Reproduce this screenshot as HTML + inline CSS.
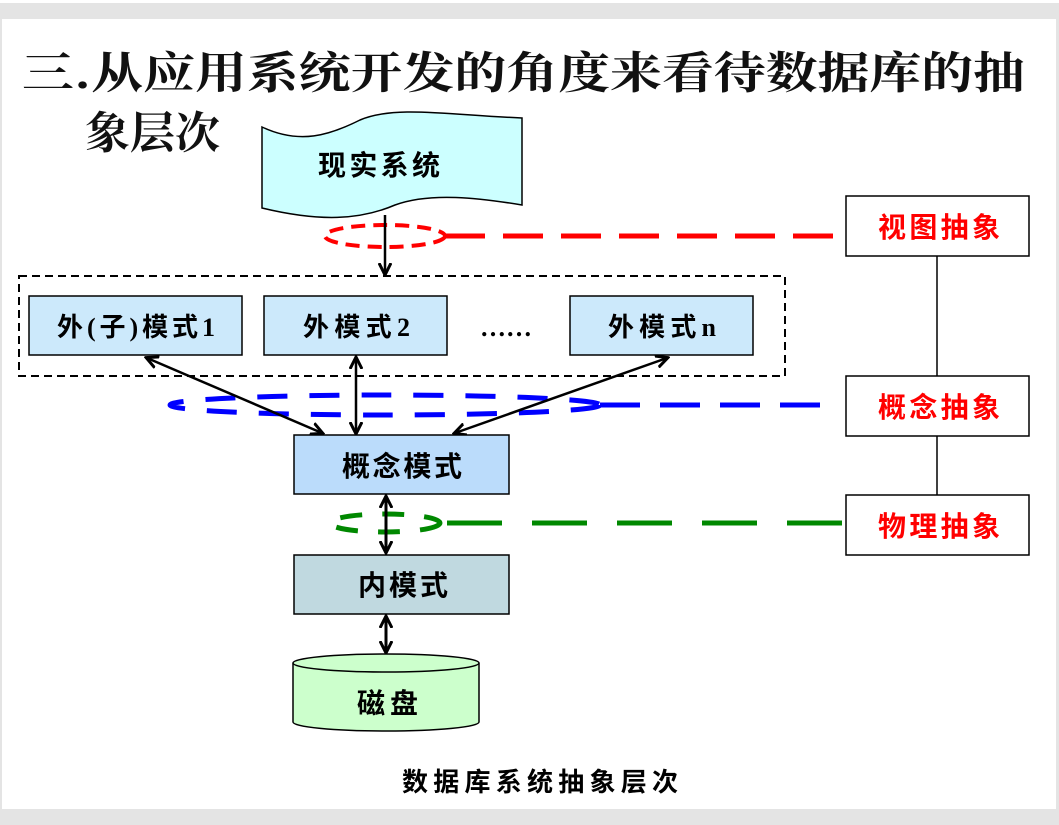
<!DOCTYPE html>
<html><head><meta charset="utf-8"><style>
body{margin:0;background:#e6e6e6;}
svg{display:block;font-family:"Liberation Serif","Noto Serif CJK SC","Noto Sans CJK SC",serif;}
</style></head><body>
<svg width="1059" height="825" viewBox="0 0 1059 825">
<rect x="0" y="0" width="1059" height="825" fill="#e4e4e4"/>
<rect x="0" y="0" width="1059" height="3" fill="#fff"/>
<rect x="2" y="19" width="1054" height="790" fill="#fff"/>
<defs>
<marker id="ah" markerWidth="14" markerHeight="14" refX="11" refY="7" orient="auto-start-reverse" markerUnits="userSpaceOnUse"><path d="M0,1 L12,7 L0,13" fill="none" stroke="#000" stroke-width="3"/></marker>
</defs>
<g font-family="'Noto Serif CJK SC','Noto Sans CJK SC',serif" font-weight="bold" font-size="44" fill="#111">
<text x="22" y="88" textLength="1003" lengthAdjust="spacingAndGlyphs">三.从应用系统开发的角度来看待数据库的抽</text>
<text x="85" y="148" textLength="135" lengthAdjust="spacingAndGlyphs">象层次</text>
</g>
<path d="M262,127 C300,145 330,135 360,120 C395,105 450,115 522,118 L522,205 C480,198 430,192 395,205 C360,220 320,222 262,208 Z" fill="#ccffff" stroke="#000" stroke-width="1.5"/>
<ellipse cx="385" cy="236" rx="60" ry="11" fill="none" stroke="#f00" stroke-width="4" stroke-dasharray="14,8"/>
<line x1="445" y1="236" x2="845" y2="236" stroke="#f00" stroke-width="5" stroke-dasharray="40,18"/>
<line x1="385" y1="215" x2="385" y2="274" stroke="#000" stroke-width="2.5" marker-end="url(#ah)"/>
<rect x="19" y="276" width="766" height="100" fill="none" stroke="#000" stroke-width="2" stroke-dasharray="8,5"/>
<rect x="29" y="296" width="213" height="59" fill="#cce9fb" stroke="#000" stroke-width="1.5"/>
<rect x="264" y="296" width="183" height="59" fill="#cce9fb" stroke="#000" stroke-width="1.5"/>
<rect x="570" y="296" width="183" height="59" fill="#cce9fb" stroke="#000" stroke-width="1.5"/>
<g font-size="26" font-weight="bold" font-family="'Liberation Serif','Noto Sans CJK SC',serif">
<text x="57" y="336" textLength="158">外(子)模式1</text>
<text x="303" y="336" textLength="107">外模式2</text>
<text x="480" y="336">……</text>
<text x="608" y="336" textLength="108">外模式n</text>
</g>
<ellipse cx="385" cy="405" rx="215" ry="10" fill="none" stroke="#00f" stroke-width="5" stroke-dasharray="30,22"/>
<line x1="600" y1="405" x2="832" y2="405" stroke="#00f" stroke-width="5" stroke-dasharray="40,20"/>
<g stroke="#000" stroke-width="2.5">
<line x1="147" y1="358" x2="322" y2="433" marker-start="url(#ah)" marker-end="url(#ah)"/>
<line x1="356" y1="358" x2="356" y2="433" marker-start="url(#ah)" marker-end="url(#ah)"/>
<line x1="667" y1="358" x2="455" y2="433" marker-start="url(#ah)" marker-end="url(#ah)"/>
</g>
<rect x="294" y="435" width="215" height="59" fill="#bbdcfb" stroke="#000" stroke-width="1.5"/>
<ellipse cx="385" cy="523" rx="55" ry="9" fill="none" stroke="#080" stroke-width="5" stroke-dasharray="22,20"/>
<line x1="447" y1="523" x2="845" y2="523" stroke="#080" stroke-width="5" stroke-dasharray="55,30"/>
<line x1="386" y1="497" x2="386" y2="552" stroke="#000" stroke-width="3" marker-start="url(#ah)" marker-end="url(#ah)"/>
<rect x="294" y="555" width="215" height="59" fill="#c0d9e0" stroke="#000" stroke-width="1.5"/>
<line x1="386" y1="617" x2="386" y2="652" stroke="#000" stroke-width="3" marker-start="url(#ah)" marker-end="url(#ah)"/>
<path d="M293,663 L293,722 A93,9 0 0 0 479,722 L479,663" fill="#ccffcc" stroke="#000" stroke-width="1.5"/>
<ellipse cx="386" cy="663" rx="93" ry="9" fill="#ccffcc" stroke="#000" stroke-width="1.5"/>
<g font-family="'Noto Sans CJK SC',sans-serif" font-weight="bold" font-size="28">
<text x="318" y="175" textLength="122">现实系统</text>
<text x="342" y="476" textLength="120">概念模式</text>
<text x="358" y="595" textLength="90">内模式</text>
<text x="357" y="713" textLength="61">磁盘</text>
<text x="402" y="791" font-size="26" textLength="276">数据库系统抽象层次</text>
</g>
<line x1="937" y1="256" x2="937" y2="496" stroke="#000" stroke-width="1.5"/>
<rect x="846" y="196" width="183" height="60" fill="#fff" stroke="#000" stroke-width="1.5"/>
<rect x="846" y="376" width="183" height="60" fill="#fff" stroke="#000" stroke-width="1.5"/>
<rect x="846" y="495" width="183" height="60" fill="#fff" stroke="#000" stroke-width="1.5"/>
<g font-size="28" font-weight="bold" fill="#f00" font-family="'Noto Sans CJK SC',sans-serif">
<text x="878" y="237" textLength="122">视图抽象</text>
<text x="878" y="417" textLength="122">概念抽象</text>
<text x="878" y="536" textLength="122">物理抽象</text>
</g>
</svg>
</body></html>
